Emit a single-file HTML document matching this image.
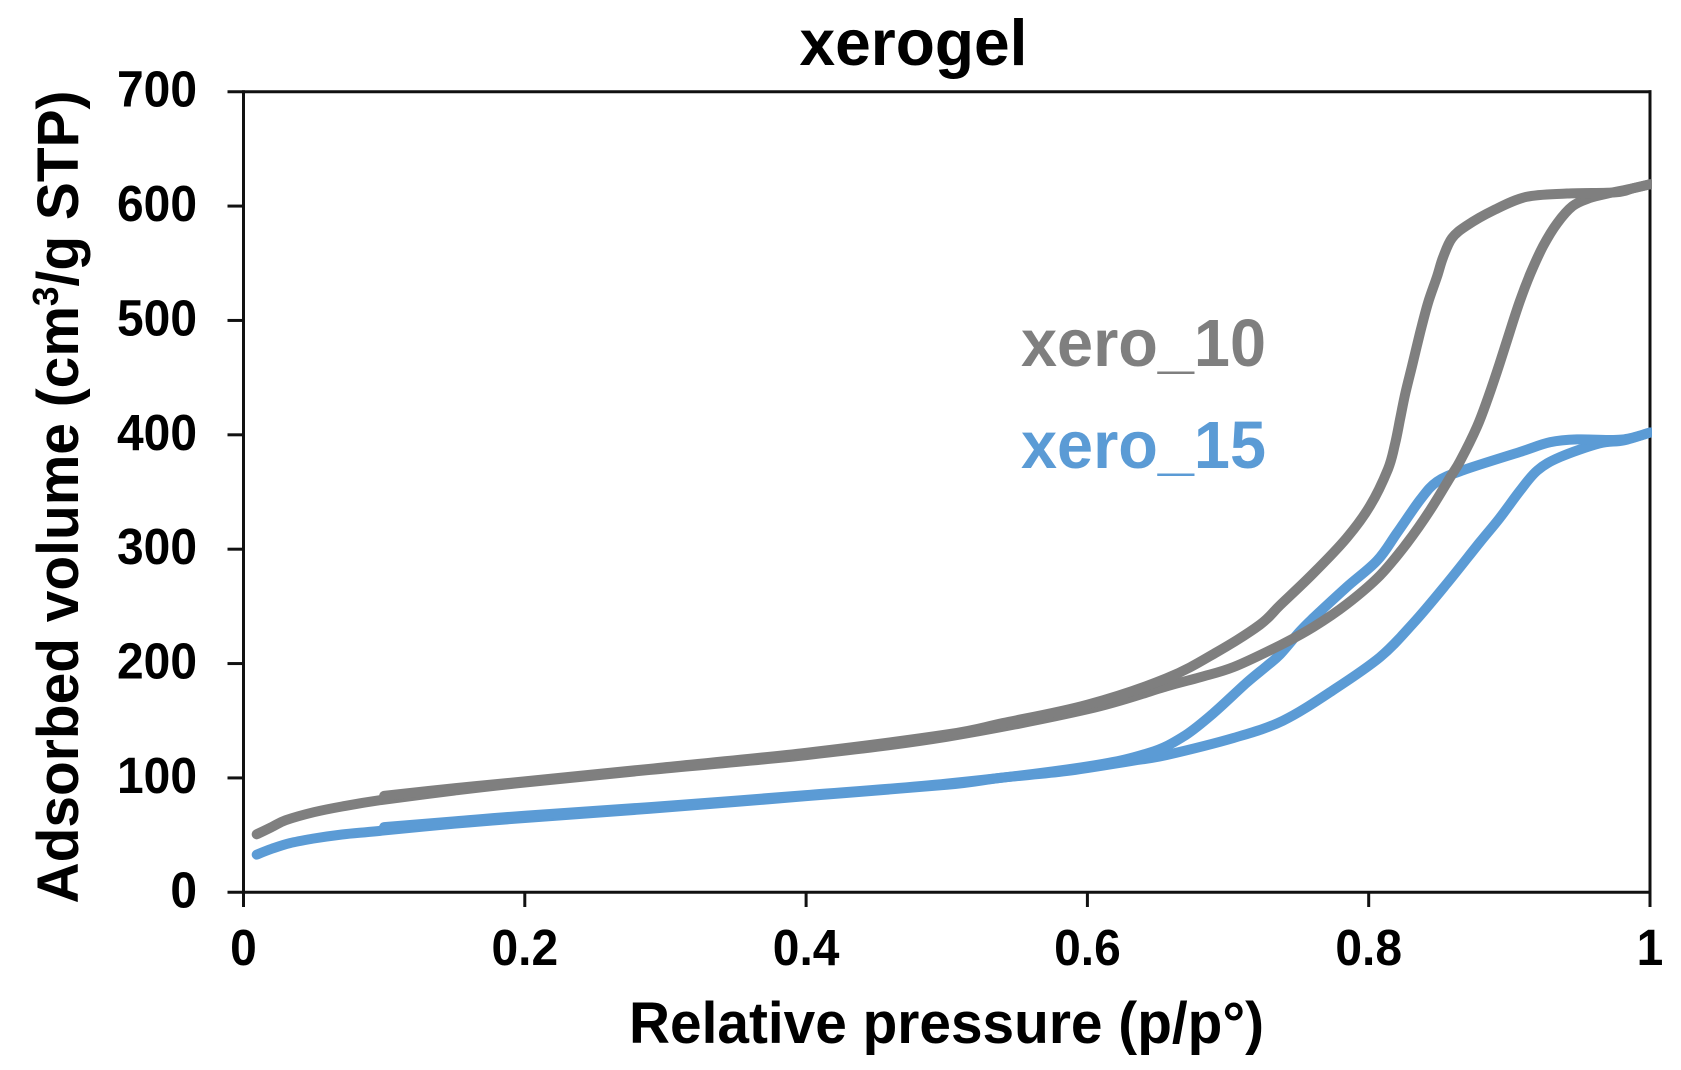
<!DOCTYPE html>
<html lang="en">
<head>
<meta charset="utf-8">
<title>xerogel</title>
<style>
html,body{margin:0;padding:0;background:#fff;width:1681px;height:1070px;overflow:hidden}
svg{display:block}
text{font-family:"Liberation Sans",Arial,sans-serif;font-weight:bold;fill:#000}
</style>
</head>
<body>
<svg id="chart" xmlns="http://www.w3.org/2000/svg" width="1681" height="1070" viewBox="0 0 1681 1070">
  <defs><clipPath id="plot-clip"><rect x="243" y="80" width="1409" height="820"/></clipPath></defs>
  <rect x="0" y="0" width="1681" height="1070" fill="#fff"/>
  <text x="913.5" y="65" font-size="65" text-anchor="middle" textLength="228" lengthAdjust="spacingAndGlyphs">xerogel</text>
  <text transform="translate(78,497) rotate(-90)" font-size="58" text-anchor="middle" textLength="813" lengthAdjust="spacingAndGlyphs">Adsorbed volume (cm<tspan font-size="36" dy="-20">3</tspan><tspan dy="20">/g STP)</tspan></text>
  <text x="946.5" y="1043" font-size="58" text-anchor="middle" textLength="635" lengthAdjust="spacingAndGlyphs">Relative pressure (p/p°)</text>
  <g id="axes"></g>
  <g id="series" clip-path="url(#plot-clip)"></g>
  <text x="1021" y="366" font-size="67" style="fill:#7f7f7f" textLength="245" lengthAdjust="spacingAndGlyphs">xero_10</text>
  <text x="1021" y="468" font-size="67" style="fill:#5b9bd5" textLength="245" lengthAdjust="spacingAndGlyphs">xero_15</text>
</svg>
<script>
const xTicks = [0, 0.2, 0.4, 0.6, 0.8, 1];
const xTickLabels = ['0', '0.2', '0.4', '0.6', '0.8', '1'];
const yTicks = [0, 100, 200, 300, 400, 500, 600, 700];
const yTickLabels = ['0', '100', '200', '300', '400', '500', '600', '700'];

const xero10AdsP = [0.0094, 0.02, 0.03, 0.05, 0.07, 0.097, 0.15, 0.2, 0.289, 0.4, 0.5, 0.6, 0.656, 0.68, 0.704, 0.737, 0.7607, 0.7845, 0.808, 0.827, 0.8436, 0.858, 0.865, 0.877, 0.885, 0.893, 0.9, 0.9075, 0.915, 0.924, 0.934, 0.945, 0.957, 0.97, 0.988, 1];
const xero10AdsV = [50.7, 57, 63, 70, 75, 80.5, 89, 96, 107, 120, 136, 160, 180, 188, 197, 216, 232, 252, 277, 305, 334, 363, 377, 407, 433, 462, 489, 517, 541, 565, 585, 600, 607, 611, 615.6, 619];
const xero10DesP = [1, 0.988, 0.976, 0.941, 0.912, 0.8883, 0.8698, 0.8592, 0.8528, 0.8485, 0.8421, 0.8365, 0.8308, 0.8258, 0.8222, 0.8187, 0.8137, 0.801, 0.7845, 0.7607, 0.737, 0.7227, 0.692, 0.656, 0.6, 0.54, 0.5, 0.4, 0.289, 0.2, 0.15, 0.1];
const xero10DesV = [619, 615.6, 612, 611, 608, 596, 583, 572, 555, 538, 515, 489, 460, 435, 413, 392, 370, 338, 310, 279, 251, 234, 210, 187, 164, 148, 138, 122, 108, 97, 91, 84.3];

const xero15AdsP = [0.0094, 0.02, 0.033, 0.05, 0.07, 0.0955, 0.15, 0.2, 0.289, 0.4, 0.5, 0.538, 0.585, 0.632, 0.656, 0.704, 0.739, 0.775, 0.808, 0.8315, 0.8556, 0.879, 0.893, 0.9075, 0.92, 0.936, 0.964, 0.981, 1];
const xero15AdsV = [33, 38, 43, 47, 50.5, 53.5, 60, 65, 73, 84, 94, 100, 106, 115, 120, 135, 150, 177, 205.6, 235, 270, 306, 327, 351, 369, 380.5, 392.5, 395, 402];
const xero15DesP = [1, 0.986, 0.974, 0.948, 0.929, 0.9075, 0.867, 0.8485, 0.8365, 0.82, 0.806, 0.7845, 0.7607, 0.751, 0.737, 0.7277, 0.713, 0.689, 0.668, 0.644, 0.6, 0.5, 0.4, 0.289, 0.2, 0.15, 0.1];
const xero15DesV = [402, 397, 395.5, 396, 393.5, 385, 369, 359, 343, 314, 290, 267, 240, 228, 208, 198, 183, 156, 136, 122, 110, 95, 85, 74.5, 67, 62, 57];

const X0 = 243.5, X1 = 1650, Y0 = 892.3, Y700 = 91.7;
function xScale(p) { return X0 + p * (X1 - X0); }
function yScale(v) { return Y0 - (v / 700) * (Y0 - Y700); }

const SVGNS = 'http://www.w3.org/2000/svg';
function make(tag, attrs) {
  const el = document.createElementNS(SVGNS, tag);
  for (const k in attrs) el.setAttribute(k, attrs[k]);
  return el;
}
function smoothPath(ps, vs) {
  const pts = ps.map((p, i) => [xScale(p), yScale(vs[i])]);
  let d = 'M' + pts[0][0].toFixed(1) + ' ' + pts[0][1].toFixed(1);
  for (let i = 0; i < pts.length - 1; i++) {
    const a = pts[Math.max(i - 1, 0)], b = pts[i], c = pts[i + 1], e = pts[Math.min(i + 2, pts.length - 1)];
    const t = 6;
    d += ' C' + (b[0] + (c[0] - a[0]) / t).toFixed(1) + ' ' + (b[1] + (c[1] - a[1]) / t).toFixed(1) +
         ' ' + (c[0] - (e[0] - b[0]) / t).toFixed(1) + ' ' + (c[1] - (e[1] - b[1]) / t).toFixed(1) +
         ' ' + c[0].toFixed(1) + ' ' + c[1].toFixed(1);
  }
  return d;
}

const seriesG = document.getElementById('series');
function addLine(ps, vs, color, name) {
  const path = make('path', { d: smoothPath(ps, vs), fill: 'none', stroke: color, 'stroke-width': 10, 'stroke-linecap': 'round', 'stroke-linejoin': 'round' });
  
  
  seriesG.appendChild(path);
}
addLine(xero15AdsP, xero15AdsV, '#5b9bd5', 'xero-15-adsorption-line');
addLine(xero15DesP, xero15DesV, '#5b9bd5', 'xero-15-desorption-line');
addLine(xero10AdsP, xero10AdsV, '#7f7f7f', 'xero-10-adsorption-line');
addLine(xero10DesP, xero10DesV, '#7f7f7f', 'xero-10-desorption-line');

const axesG = document.getElementById('axes');
function addRule(x1, y1, x2, y2, w, name) {
  const l = make('line', { x1: x1, y1: y1, x2: x2, y2: y2, stroke: '#111', 'stroke-width': w });
  
  
  axesG.appendChild(l);
}
addRule(X0, Y700 - 1.5, X0, 907, 3, 'y-axis-line');
addRule(X1, Y700 - 1.5, X1, 907, 3, 'right-border-line');
addRule(227.5, Y700, X1 + 1.5, Y700, 3, 'top-border-line');
addRule(227.5, Y0, X1 + 1.5, Y0, 3, 'x-axis-line');

yTicks.forEach((v, i) => {
  if (v !== 0 && v !== 700) addRule(227.5, yScale(v), X0, yScale(v), 3, 'y-tick-mark');
  const t = make('text', { transform: 'translate(197,' + (yScale(v) + 15) + ') scale(0.94,1)', 'font-size': 51, 'text-anchor': 'end' });
  
  
  t.textContent = yTickLabels[i];
  axesG.appendChild(t);
});
xTicks.forEach((p, i) => {
  if (p !== 0 && p !== 1) addRule(xScale(p), Y0, xScale(p), 907, 3, 'x-tick-mark');
  const t = make('text', { transform: 'translate(' + xScale(p) + ',965) scale(0.94,1)', 'font-size': 51, 'text-anchor': 'middle' });
  
  
  t.textContent = xTickLabels[i];
  axesG.appendChild(t);
});
</script>
</body>
</html>
